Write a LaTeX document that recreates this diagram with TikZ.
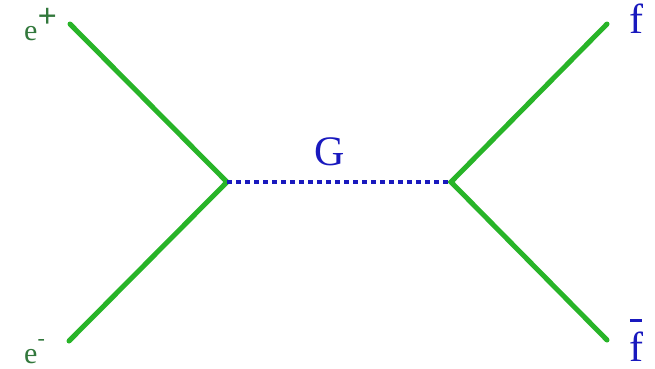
\documentclass[tikz,border=0pt]{standalone}
\usepackage{fontspec}
\setmainfont{Liberation Serif}
\definecolor{lgreen}{RGB}{40,180,40}
\definecolor{lblue}{RGB}{25,25,190}
\definecolor{tgreen}{RGB}{50,120,60}
\tikzset{
  fermion/.style={draw=lgreen, line width=5pt, line cap=round},
  boson/.style={draw=lblue, line width=4pt, dash pattern=on 5pt off 4pt},
  elabel/.style={text=tgreen, inner sep=0pt, font=\fontsize{30}{30}\selectfont},
  flabel/.style={text=lblue, inner sep=0pt, font=\fontsize{42}{42}\selectfont},
}
\begin{document}
\begin{tikzpicture}[x=1pt,y=-1pt]
\useasboundingbox (0,0) rectangle (655,368);
\coordinate (v1) at (227,182);
\coordinate (v2) at (451,182);
\coordinate (a) at (70,24);
\coordinate (b) at (69,341);
\coordinate (c) at (607,24);
\coordinate (d) at (607,340);
\draw[fermion] (a) -- (v1) -- (b);
\draw[fermion] (c) -- (v2) -- (d);
\draw[boson] (v1) -- (v2);
\node[elabel, anchor=base west] (ep) at (24,40) {e\raisebox{0.42em}{\fontsize{34}{34}\selectfont\textbf{+}}};
\node[elabel, anchor=base west] (em) at (24,363) {e\raisebox{0.6em}{\fontsize{22}{22}\selectfont -}};
\node[flabel, anchor=base] (f) at (636,33) {f};
\node[flabel, anchor=base] (fb) at (636,361) {\makebox[0pt][l]{\hspace{0.02em}\raisebox{0.92em}{\rule{0.3em}{0.08em}}}f};
\node[flabel, anchor=base] (G) at (330,165) {G};
\end{tikzpicture}
\end{document}
